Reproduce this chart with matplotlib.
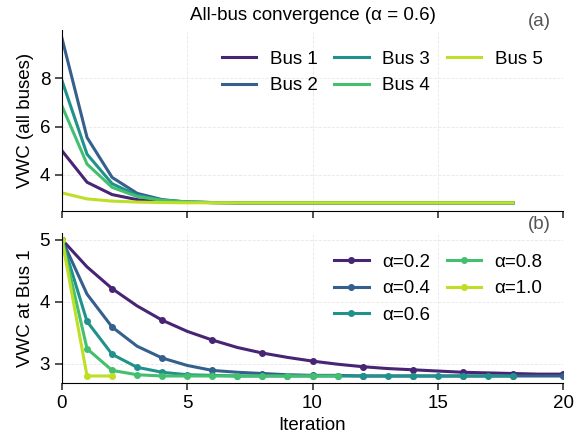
import matplotlib
matplotlib.use("Agg")
from matplotlib import pyplot as plt
import numpy as np

# top panel: all buses, alpha = 0.6
iters_bus = list(range(19))
bus1 = [5.00, 3.70, 3.19, 2.98, 2.90, 2.87, 2.86, 2.85, 2.85, 2.85,
        2.85, 2.85, 2.85, 2.85, 2.85, 2.85, 2.85, 2.85, 2.85]
bus2 = [9.65, 5.55, 3.90, 3.24, 2.98, 2.88, 2.86, 2.85, 2.85, 2.85,
        2.85, 2.85, 2.85, 2.85, 2.85, 2.85, 2.85, 2.85, 2.85]
bus3 = [7.90, 4.86, 3.64, 3.16, 2.96, 2.88, 2.86, 2.85, 2.85, 2.85,
        2.85, 2.85, 2.85, 2.85, 2.85, 2.85, 2.85, 2.85, 2.85]
bus4 = [6.85, 4.45, 3.49, 3.11, 2.95, 2.89, 2.86, 2.85, 2.85, 2.85,
        2.85, 2.85, 2.85, 2.85, 2.85, 2.85, 2.85, 2.85, 2.85]
bus5 = [3.26, 3.01, 2.92, 2.88, 2.86, 2.85, 2.85, 2.85, 2.85, 2.85,
        2.85, 2.85, 2.85, 2.85, 2.85, 2.85, 2.85, 2.85, 2.85]
bus_names = ["Bus 1", "Bus 2", "Bus 3", "Bus 4", "Bus 5"]

# bottom panel: bus 1 for several alpha
alpha_names = ["α=0.2", "α=0.4", "α=0.6", "α=0.8", "α=1.0"]
a02 = [5.00, 4.56, 4.21, 3.93, 3.70, 3.52, 3.38, 3.26, 3.17, 3.10, 3.04,
       2.99, 2.95, 2.92, 2.90, 2.88, 2.86, 2.85, 2.84, 2.83, 2.83]
a04 = [5.00, 4.12, 3.59, 3.28, 3.09, 2.97, 2.89, 2.86, 2.84, 2.82, 2.81,
       2.81, 2.80, 2.80, 2.80, 2.80, 2.80, 2.80, 2.80, 2.80, 2.80]
a06 = [5.00, 3.68, 3.15, 2.94, 2.86, 2.82, 2.81, 2.80, 2.80, 2.80,
       2.80, 2.80, 2.80, 2.80, 2.80, 2.80, 2.80, 2.80, 2.80]
a08 = [5.00, 3.24, 2.89, 2.82, 2.80, 2.80, 2.80, 2.80, 2.80, 2.80, 2.80, 2.80]
a10 = [5.00, 2.80, 2.80]

plt.rcParams['font.family'] = ['Liberation Sans', 'DejaVu Sans']
plt.rcParams['font.size'] = 13.5

colors = plt.cm.viridis(np.linspace(0.1, 0.9, 5))

fig = plt.figure(figsize=(5.74, 4.36), dpi=100)
ax1 = fig.add_axes([0.108, 0.516, 0.873, 0.415])
ax2 = fig.add_axes([0.108, 0.122, 0.873, 0.344], sharex=ax1)

for ys, name, c in zip([bus1, bus2, bus3, bus4, bus5], bus_names, colors):
    ax1.plot(iters_bus, ys, color=c, lw=2.2, label=name)

for ys, name, c in zip([a02, a04, a06, a08, a10], alpha_names, colors):
    n = len(ys)
    ax2.plot(range(n), ys, color=c, lw=2.2, marker='o', ms=4,
             markevery=max(1, n // 10), label=name)

ax1.set_title("All-bus convergence (α = 0.6)", fontsize=13.5, pad=7)
ax1.set_ylabel("VWC (all buses)")
ax2.set_ylabel("VWC at Bus 1")
ax2.set_xlabel("Iteration")
ax2.set_xlim(0, 20)
ax1.set_yticks([4, 6, 8])
ax2.set_yticks([3, 4, 5])
ax2.set_xticks([0, 5, 10, 15, 20])
plt.setp(ax1.get_xticklabels(), visible=False)

ax1.legend(ncol=3, frameon=False, loc="upper right", columnspacing=0.9,
           handlelength=1.85, handletextpad=0.7, borderaxespad=0.7)
ax2.legend(ncol=2, frameon=False, loc="upper right", columnspacing=0.9,
           handlelength=1.85, handletextpad=0.7, borderaxespad=0.7)

for ax, tag in [(ax1, "(a)"), (ax2, "(b)")]:
    ax.grid(True, ls='--', lw=0.6, color='#e8e8e8')
    ax.spines['top'].set_visible(False)
    ax.spines['right'].set_visible(False)
    ax.tick_params(direction='out', length=5, width=1.2, color='#333333')
    ax.text(0.976, 1.0, tag, transform=ax.transAxes, ha='right', va='bottom',
            color='#555555')

fig.savefig("out.png", dpi=100)
